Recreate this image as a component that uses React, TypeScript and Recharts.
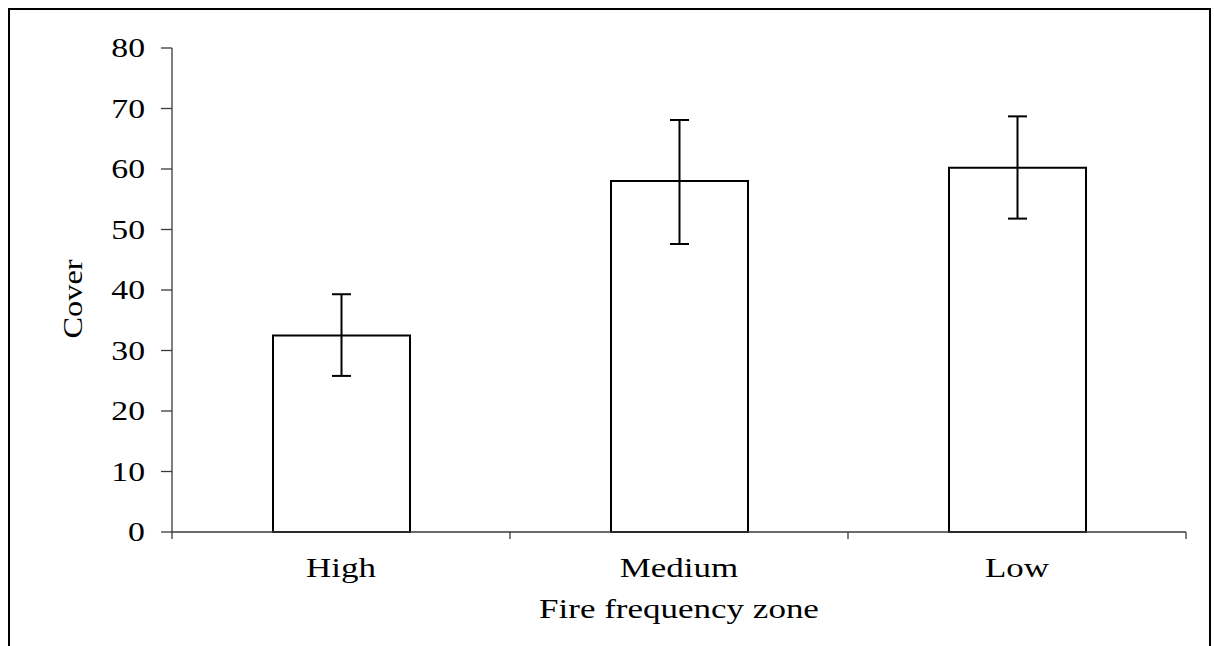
import React from 'react';
import { BarChart, Bar, XAxis, YAxis, ErrorBar } from 'recharts';

const zones = ['High', 'Medium', 'Low'];
const coverMean = [32.5, 58.0, 60.2];
const coverLower = [25.8, 47.6, 51.8];
const coverUpper = [39.3, 68.1, 68.7];
const yTicks = [0, 10, 20, 30, 40, 50, 60, 70, 80];

const data = zones.map((zone, i) => ({
  zone,
  cover: coverMean[i],
  err: [coverMean[i] - coverLower[i], coverUpper[i] - coverMean[i]],
}));

const FONT = '"Liberation Serif", "Times New Roman", serif';
const AXIS = '#3a3a3a';
const STRETCH = 1.25;

const XTick = (props: any) => {
  const { x, y, payload, index, visibleTicksCount } = props;
  const half = payload.offset ?? 169;
  const isLast = index === visibleTicksCount - 1;
  return (
    <g>
      <line x1={x - half} y1={y} x2={x - half} y2={y + 7} stroke={AXIS} strokeWidth={1.3} />
      {isLast && (
        <line x1={x + half} y1={y} x2={x + half} y2={y + 7} stroke={AXIS} strokeWidth={1.3} />
      )}
      <g transform={`translate(${x},${y + 45}) scale(${STRETCH},1)`}>
        <text textAnchor="middle" fontFamily={FONT} fontSize={28} fill="#000">
          {payload.value}
        </text>
      </g>
    </g>
  );
};

const YTick = (props: any) => {
  const { x, y, payload } = props;
  return (
    <g transform={`translate(${x},${y + 9}) scale(${STRETCH},1)`}>
      <text textAnchor="end" fontFamily={FONT} fontSize={27} fill="#000">
        {payload.value}
      </text>
    </g>
  );
};

const XTitle = (props: any) => {
  const { viewBox } = props;
  const cx = viewBox.x + viewBox.width / 2;
  return (
    <g transform={`translate(${cx},${viewBox.y + 86}) scale(${STRETCH},1)`}>
      <text textAnchor="middle" fontFamily={FONT} fontSize={28} fill="#000">
        Fire frequency zone
      </text>
    </g>
  );
};

const YTitle = () => (
  <g transform="translate(72,289) rotate(-90) scale(1.2,1)">
    <text textAnchor="middle" fontFamily={FONT} fontSize={27} fill="#000">
      Cover
    </text>
  </g>
);

export default function App() {
  return (
    <div
      style={{
        position: 'fixed',
        left: 8,
        top: 8,
        width: 1199,
        height: 700,
        borderTop: '2px solid #000',
        borderLeft: '2px solid #000',
        borderRight: '2px solid #000',
        background: '#fff',
      }}
    >
      <BarChart
        width={1199}
        height={630}
        data={data}
        margin={{ top: 38, right: 23, left: 0, bottom: 0 }}
        barCategoryGap={0}
      >
        <XAxis
          dataKey="zone"
          height={108}
          tickSize={0}
          tickMargin={0}
          tickLine={false}
          axisLine={{ stroke: AXIS, strokeWidth: 1.3 }}
          tick={<XTick />}
          interval={0}
          label={{ content: <XTitle /> }}
        />
        <YAxis
          width={162}
          domain={[0, 80]}
          ticks={yTicks}
          interval={0}
          tickSize={11}
          tickMargin={16}
          axisLine={{ stroke: AXIS, strokeWidth: 1.3 }}
          tickLine={{ stroke: AXIS, strokeWidth: 1.3 }}
          tick={<YTick />}
          label={{ content: <YTitle /> }}
        />
        <Bar
          dataKey="cover"
          fill="#fff"
          stroke="#000"
          strokeWidth={2}
          barSize={137}
          isAnimationActive={false}
        >
          <ErrorBar dataKey="err" width={9.5} stroke="#000" strokeWidth={2} />
        </Bar>
      </BarChart>
    </div>
  );
}
